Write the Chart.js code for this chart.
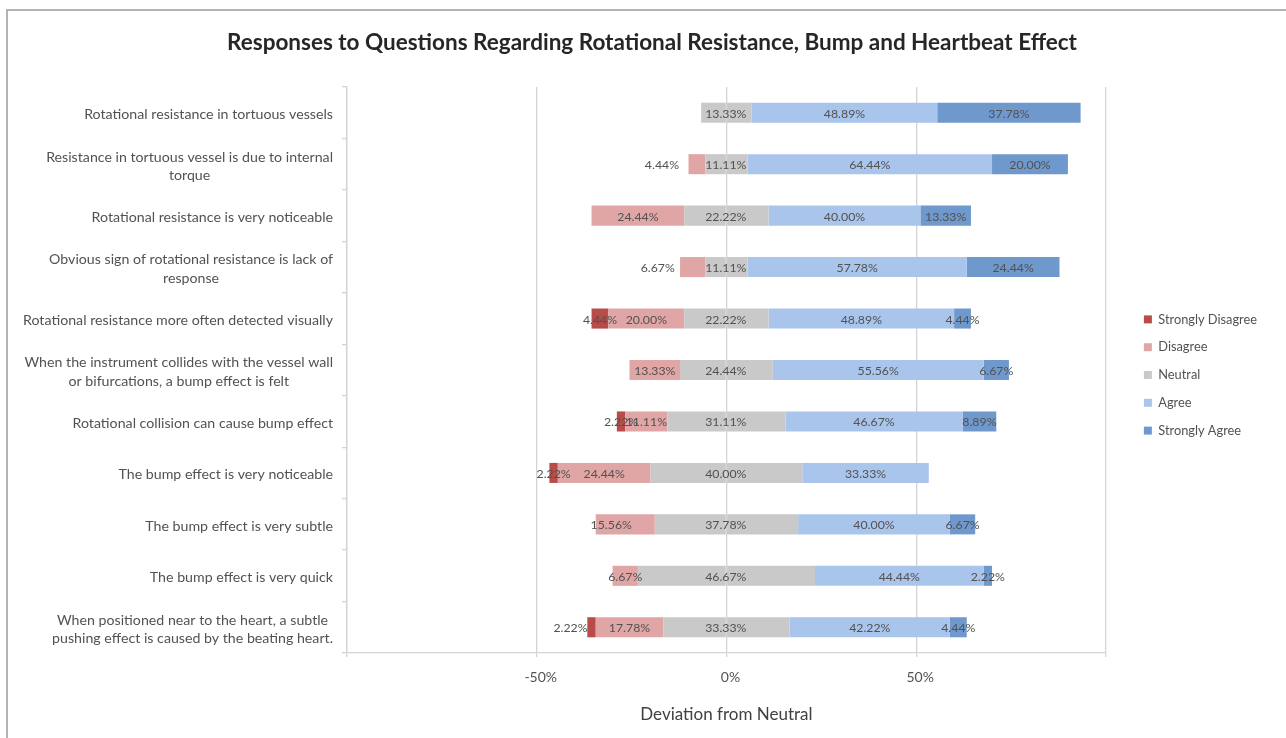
<!DOCTYPE html>
<html>
<head>
<meta charset="utf-8">
<script src="https://cdn.jsdelivr.net/npm/chart.js@4/dist/chart.umd.min.js"></script>
<style>
  body { margin: 0; background: #fff; }
  #wrap { position: relative; width: 1286px; height: 738px; overflow: hidden; }
  #frame { position: absolute; left: 6px; top: 9px; width: 1290px; height: 760px;
           border-top: 2px solid #b4b4b4; border-left: 2px solid #b4b4b4; }
  #chart { position: absolute; left: 0; top: 0; }
</style>
</head>
<body>
<div id="wrap">
  <div id="frame"></div>
  <canvas id="chart" width="1286" height="738"></canvas>
</div>
<script>
// Perguntas (linhas), de cima para baixo
var questions = [
    'Rotational resistance in tortuous vessels',
    ['Resistance in tortuous vessel is due to internal', 'torque'],
    'Rotational resistance is very noticeable',
    ['Obvious sign of rotational resistance is lack of', 'response'],
    'Rotational resistance more often detected visually',
    ['When the instrument collides with the vessel wall', 'or bifurcations, a bump effect is felt'],
    'Rotational collision can cause bump effect',
    'The bump effect is very noticeable',
    'The bump effect is very subtle',
    'The bump effect is very quick',
    ['When positioned near to the heart, a subtle', 'pushing effect is caused by the beating heart.']
];

// Percentuais de cada resposta
var stronglyDisagree = [0, 0, 0, 0, 4.44, 0, 2.22, 2.22, 0, 0, 2.22];
var disagree         = [0, 4.44, 24.44, 6.67, 20.00, 13.33, 11.11, 24.44, 15.56, 6.67, 17.78];
var neutral          = [13.33, 11.11, 22.22, 11.11, 22.22, 24.44, 31.11, 40.00, 37.78, 46.67, 33.33];
var agree            = [48.89, 64.44, 40.00, 57.78, 48.89, 55.56, 46.67, 33.33, 40.00, 44.44, 42.22];
var stronglyAgree    = [37.78, 20.00, 13.33, 24.44, 4.44, 6.67, 8.89, 0, 6.67, 2.22, 4.44];

var xTicks = [-100, -50, 0, 50, 100];

var textColor = '#525252';
var gridColor = '#d4d4d4';

// Metade do neutro vai para cada lado do zero
function half(arr, sign) { return arr.map(v => sign * v / 2); }
function neg(arr) { return arr.map(v => -v); }

var datasets = [
    { label: 'Neutral', data: half(neutral, -1), raw: neutral, backgroundColor: '#c9c9c9', legendRank: 2, kind: 'neutral' },
    { label: 'Disagree', data: neg(disagree), raw: disagree, backgroundColor: '#e0a6a5', legendRank: 1 },
    { label: 'Strongly Disagree', data: neg(stronglyDisagree), raw: stronglyDisagree, backgroundColor: '#b84c49', legendRank: 0 },
    { label: 'Neutral right', data: half(neutral, 1), raw: neutral, backgroundColor: '#c9c9c9', legendRank: 9, kind: 'skip' },
    { label: 'Agree', data: agree, raw: agree, backgroundColor: '#a9c5eb', legendRank: 3 },
    { label: 'Strongly Agree', data: stronglyAgree, raw: stronglyAgree, backgroundColor: '#6f98cd', legendRank: 4 }
];
datasets.forEach(d => { d.borderWidth = 0; d.categoryPercentage = 0.78; d.barPercentage = 0.5; });

// Rótulos que foram arrastados à mão no original
var labelNudge = { '1-1': -35, '3-1': -35, '8-1': -14, '10-2': -21 };

// Plugin: rótulos de valor dentro das barras
var barLabels = {
    id: 'barLabels',
    afterDatasetsDraw(chart) {
        var ctx = chart.ctx;
        ctx.save();
        ctx.font = '12.3px Lato';
        ctx.fillStyle = textColor;
        ctx.textAlign = 'center';
        ctx.textBaseline = 'middle';
        chart.data.datasets.forEach((ds, di) => {
            if (ds.kind === 'skip') return;
            var meta = chart.getDatasetMeta(di);
            meta.data.forEach((bar, i) => {
                var v = ds.raw[i];
                if (!v) return;
                var x = ds.kind === 'neutral' ? bar.base : (bar.x + bar.base) / 2;
                x += labelNudge[i + '-' + di] || 0;
                ctx.fillText(v.toFixed(2) + '%', x, bar.y + 1);
            });
        });
        ctx.restore();
    }
};

// Plugin: perguntas do eixo y (bloco centralizado, alinhado à direita)
var questionLabels = {
    id: 'questionLabels',
    afterDraw(chart) {
        var ctx = chart.ctx;
        var yScale = chart.scales.y;
        var right = chart.chartArea.left - 14;
        var lh = 18.5;
        ctx.save();
        ctx.font = '14.2px Lato';
        ctx.fillStyle = textColor;
        ctx.textAlign = 'center';
        ctx.textBaseline = 'middle';
        questions.forEach((q, i) => {
            var lines = Array.isArray(q) ? q : [q];
            var w = Math.max.apply(null, lines.map(l => ctx.measureText(l).width));
            var cx = right - w / 2;
            var y0 = yScale.getPixelForValue(i) + 2 - (lines.length - 1) * lh / 2;
            lines.forEach((l, k) => ctx.fillText(l, cx, y0 + k * lh));
        });
        ctx.restore();
    }
};

var ctx = document.getElementById('chart').getContext('2d');
var chart = new Chart(ctx, {
    type: 'bar',
    data: {
        labels: questions.map((q, i) => i),
        datasets: datasets
    },
    plugins: [barLabels, questionLabels],
    options: {
        responsive: false,
        animation: false,
        indexAxis: 'y',
        layout: { padding: { left: 37, right: 19, top: 12, bottom: 0 } },
        scales: {
            x: {
                stacked: true,
                min: -100,
                max: 100,
                afterBuildTicks: s => { s.ticks = xTicks.map(v => ({ value: v })); },
                afterFit: s => { s.height = 85; },
                grid: { color: gridColor, lineWidth: 1.3, tickLength: 4 },
                border: { color: gridColor, width: 1.3 },
                ticks: {
                    color: textColor,
                    font: { family: 'Lato', size: 14 },
                    padding: 12,
                    labelOffset: 4,
                    callback: v => (v === -100 || v === 100) ? '' : v + '%'
                },
                title: {
                    display: true,
                    text: 'Deviation from Neutral',
                    color: '#404040',
                    font: { family: 'Lato', size: 17 },
                    padding: { top: 0, bottom: 13 }
                }
            },
            y: {
                stacked: true,
                afterFit: s => { s.width = 347 - 37; },
                grid: { offset: true, drawOnChartArea: false, color: gridColor, tickLength: 5, lineWidth: 1.3 },
                border: { color: gridColor, width: 1.3 },
                ticks: { display: false }
            },
            // espaço vazio entre o gráfico e a legenda
            gap: {
                type: 'linear',
                position: 'right',
                afterFit: s => { s.width = 23; },
                grid: { display: false },
                border: { display: false },
                ticks: { display: false }
            }
        },
        plugins: {
            title: {
                display: true,
                text: 'Responses to Questions Regarding Rotational Resistance, Bump and Heartbeat Effect',
                color: '#262626',
                font: { family: 'Lato', size: 22.5, weight: 'bold' },
                padding: { top: 17, bottom: 31 }
            },
            legend: {
                position: 'right',
                labels: {
                    color: textColor,
                    font: { family: 'Lato', size: 12.8 },
                    boxWidth: 8,
                    boxHeight: 8,
                    padding: 15,
                    filter: item => item.text !== 'Neutral right',
                    sort: (a, b, data) => data.datasets[a.datasetIndex].legendRank - data.datasets[b.datasetIndex].legendRank
                }
            },
            tooltip: { enabled: false }
        }
    }
});
</script>
</body>
</html>
